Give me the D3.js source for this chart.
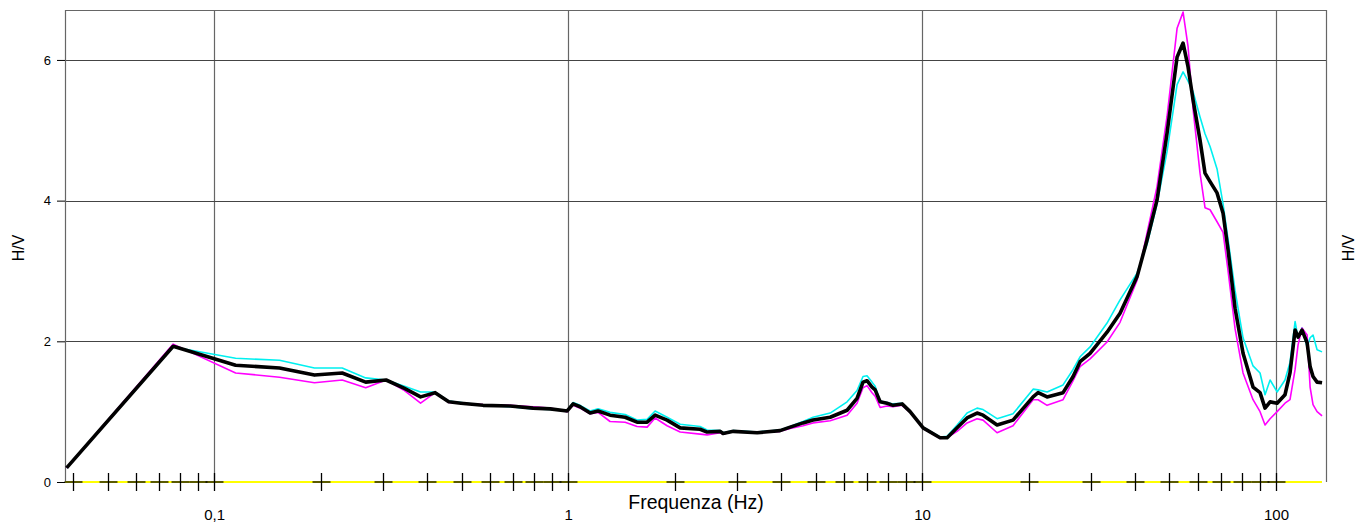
<!DOCTYPE html>
<html><head><meta charset="utf-8">
<script src="https://cdn.jsdelivr.net/npm/d3@7"></script>
<style>body{margin:0;background:#fff}svg{display:block;font-family:"Liberation Sans",Arial,sans-serif}</style>
</head><body><svg id="c" width="1356" height="522"></svg>
<script>
const freq = [0.0383,0.0766,0.115,0.153,0.192,0.230,0.268,0.306,0.345,0.383,0.421,0.460,0.498,0.575,0.686,0.796,0.89,0.994,
1.033,1.081,1.154,1.215,1.314,1.449,1.566,1.672,1.761,1.904,2.073,2.36,2.47,2.69,2.74,2.93,3.42,3.97,4.24,4.61,4.92,5.50,
6.14,6.55,6.81,6.99,7.22,7.37,7.61,7.96,8.28,8.78,9.25,10.07,11.24,11.77,12.56,13.40,14.30,14.87,16.29,18.07,20.59,21.27,
22.55,25.02,26.71,27.95,29.83,33.31,36.25,40.50,43.21,46.11,49.22,52.53,54.62,56.42,58.29,60.99,63.00,65.10,68.13,70.85,
73.19,76.60,80.68,86.10,90.12,93.09,96.20,100.7,106.0,109.5,113.2,115.4,118.4,122.4,124.8,127.2,130.6,134.9];
const hvMean = [0.20,1.93,1.66,1.62,1.52,1.55,1.42,1.45,1.33,1.21,1.27,1.14,1.12,1.09,1.08,1.05,1.04,1.01,
1.11,1.07,0.98,1.01,0.95,0.92,0.85,0.85,0.95,0.88,0.77,0.75,0.71,0.72,0.69,0.72,0.70,0.73,0.78,0.84,0.88,0.92,
1.02,1.19,1.42,1.44,1.35,1.31,1.14,1.12,1.09,1.11,1.00,0.77,0.63,0.63,0.77,0.91,0.98,0.95,0.81,0.88,1.21,1.27,
1.21,1.27,1.50,1.71,1.83,2.13,2.40,2.92,3.44,4.01,4.96,6.04,6.24,5.90,5.43,4.86,4.39,4.27,4.11,3.82,
3.30,2.47,1.83,1.35,1.27,1.05,1.14,1.12,1.24,1.55,2.16,2.06,2.16,1.98,1.64,1.50,1.42,1.41];
const hvCyan = [0.20,1.92,1.76,1.73,1.62,1.62,1.48,1.45,1.36,1.28,1.28,1.15,1.13,1.09,1.07,1.04,1.03,1.02,
1.13,1.09,1.01,1.04,0.99,0.96,0.88,0.89,1.01,0.92,0.82,0.79,0.74,0.73,0.70,0.73,0.71,0.74,0.79,0.86,0.92,0.98,
1.14,1.30,1.50,1.51,1.42,1.36,1.15,1.13,1.11,1.12,1.01,0.78,0.64,0.65,0.81,0.98,1.05,1.03,0.90,0.97,1.32,1.31,
1.28,1.38,1.60,1.78,1.92,2.26,2.59,2.97,3.38,3.95,4.70,5.65,5.83,5.70,5.55,5.19,4.95,4.77,4.45,3.95,
3.45,2.72,2.05,1.65,1.55,1.24,1.45,1.28,1.45,1.70,2.28,2.05,2.19,1.92,2.05,2.09,1.88,1.85];
const hvMagenta = [0.20,1.96,1.55,1.49,1.41,1.45,1.34,1.45,1.30,1.12,1.27,1.13,1.12,1.10,1.09,1.07,1.05,1.00,
1.09,1.05,0.97,0.99,0.86,0.85,0.79,0.78,0.91,0.80,0.71,0.68,0.67,0.70,0.68,0.72,0.70,0.72,0.76,0.80,0.84,0.87,
0.95,1.12,1.34,1.37,1.27,1.22,1.06,1.08,1.07,1.09,0.99,0.76,0.62,0.63,0.72,0.84,0.90,0.88,0.70,0.80,1.17,1.17,
1.09,1.17,1.44,1.64,1.75,1.99,2.27,2.87,3.54,4.20,5.20,6.45,6.68,6.19,5.30,4.39,3.90,3.87,3.70,3.55,
3.00,2.18,1.55,1.17,1.00,0.81,0.90,1.00,1.12,1.17,1.60,1.95,2.19,2.09,1.35,1.10,1.00,0.94];
const xMajor = [0.1,1,10,100];
const xMajorLabels = ["0,1","1","10","100"];
const xMinor = [0.04,0.05,0.06,0.07,0.08,0.09,0.1,0.2,0.3,0.4,0.5,0.6,0.7,0.8,0.9,1,2,3,4,5,6,7,8,9,10,20,30,40,50,60,70,80,90,100];
const yTicks = [0,2,4,6];

const L=65,R=1326,T=10,B=482;
const svg=d3.select("#c");
const x=d3.scaleLog().domain([0.0379,138.4]).range([L,R]);
const y=d3.scaleLinear().domain([0,6.71]).range([B,T]);

// grid
svg.append("g").selectAll("line").data(xMajor).join("line")
 .attr("x1",d=>Math.round(x(d))+0.5).attr("x2",d=>Math.round(x(d))+0.5).attr("y1",T).attr("y2",B)
 .attr("stroke","#666").attr("stroke-width",1.2);
svg.append("g").selectAll("line").data(yTicks.filter(d=>d>0)).join("line")
 .attr("x1",L).attr("x2",R).attr("y1",d=>Math.round(y(d))+0.5).attr("y2",d=>Math.round(y(d))+0.5)
 .attr("stroke","#444").attr("stroke-width",1.2);
// frame
svg.append("path").attr("d",`M${L+0.5},${B}V${T+0.5}H${R+0.5}V${B}`).attr("fill","none").attr("stroke","#666").attr("stroke-width",1.2);

// y axis
const ya=svg.append("g").attr("transform",`translate(${L},0)`).call(d3.axisLeft(y).tickValues(yTicks).tickSize(8).tickPadding(6).tickFormat(d3.format("d")));
ya.select(".domain").remove();
ya.selectAll("line").attr("stroke","#000");
ya.selectAll("text").attr("font-size",13).attr("fill","#000").attr("font-family","Liberation Sans, Arial, sans-serif");

// baseline
svg.append("line").attr("x1",L).attr("x2",R-4).attr("y1",B).attr("y2",B).attr("stroke","#ffff00").attr("stroke-width",2.2);
const cr=svg.append("g").selectAll("g").data(xMinor).join("g").attr("transform",d=>`translate(${Math.round(x(d))+0.5},${B})`);
cr.append("line").attr("x1",-9).attr("x2",9).attr("y1",0).attr("y2",0).attr("stroke","#000").attr("stroke-width",1.3);
cr.append("line").attr("x1",0).attr("x2",0).attr("y1",-9).attr("y2",9).attr("stroke","#000").attr("stroke-width",1.3);

// x axis labels
const xa=svg.append("g").attr("transform",`translate(0,${B})`).call(d3.axisBottom(x).tickValues(xMajor).tickSize(0).tickPadding(27).tickFormat((d,i)=>xMajorLabels[i]));
xa.select(".domain").remove();
xa.selectAll("text").attr("font-size",15).attr("fill","#000").attr("font-family","Liberation Sans, Arial, sans-serif");

svg.append("text").attr("x",696).attr("y",509).attr("text-anchor","middle").attr("font-size",19.5).text("Frequenza (Hz)");
svg.append("text").attr("transform","translate(24,248) rotate(-90)").attr("text-anchor","middle").attr("font-size",16).text("H/V");
svg.append("text").attr("transform","translate(1354,248) rotate(-90)").attr("text-anchor","middle").attr("font-size",16).text("H/V");

// lines
const line=vals=>d3.line().x((d,i)=>x(freq[i])).y(d=>y(d))(vals);
svg.append("path").attr("d",line(hvCyan)).attr("fill","none").attr("stroke","#00f0f0").attr("stroke-width",1.6).attr("stroke-linejoin","round");
svg.append("path").attr("d",line(hvMagenta)).attr("fill","none").attr("stroke","#ff00ff").attr("stroke-width",1.6).attr("stroke-linejoin","round");
svg.append("path").attr("d",line(hvMean)).attr("fill","none").attr("stroke","#000").attr("stroke-width",3.6).attr("stroke-linejoin","round");
</script></body></html>
